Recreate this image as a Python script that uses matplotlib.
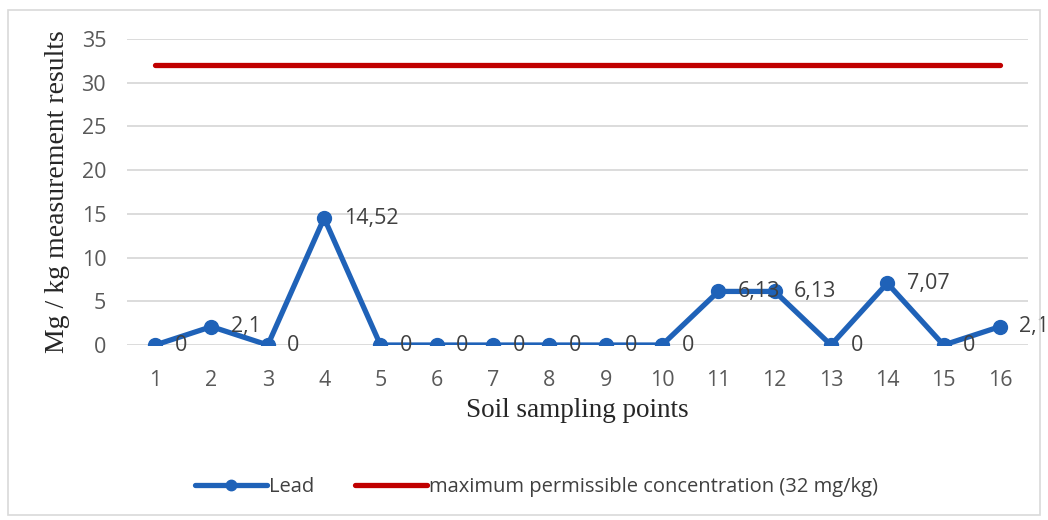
import matplotlib
matplotlib.use("Agg")
import matplotlib.pyplot as plt
from matplotlib.patches import Rectangle

points = list(range(1, 17))
lead = [0, 2.1, 0, 14.52, 0, 0, 0, 0, 0, 0, 6.13, 6.13, 0, 7.07, 0, 2.1]
mpc = [32] * 16
labels = ["0", "2,1", "0", "14,52", "0", "0", "0", "0", "0", "0", "6,13", "6,13", "0", "7,07", "0", "2,1"]
yticks = [0, 5, 10, 15, 20, 25, 30, 35]

fig = plt.figure(figsize=(10.48, 5.2), dpi=100)
ax = fig.add_axes([0.1212, 0.3365, 0.8598, 0.5885])

sans = ["Open Sans", "DejaVu Sans"]
serif = ["Liberation Serif", "DejaVu Serif"]

ax.plot(points, lead, color="#1F62B8", lw=3.8, marker="o", ms=10, label="Lead", zorder=3,
        solid_capstyle="round")
ax.plot(points, mpc, color="#C00000", lw=3.8, label="maximum permissible concentration (32 mg/kg)",
        solid_capstyle="round", zorder=3)

for x, y, t in zip(points, lead, labels):
    ax.annotate(t, (x, y), xytext=(14, 0), textcoords="offset points", ha="left", va="center",
                fontsize=15.5, color="#404040", family=sans, zorder=4)

ax.set_xlim(0.5, 16.5)
ax.set_ylim(0, 35)
ax.set_yticks(yticks)
ax.set_xticks(points)
ax.grid(axis="y", color="#D9D9D9", lw=1.3)
ax.set_axisbelow(True)
for s in ax.spines.values():
    s.set_visible(False)
ax.tick_params(length=0, labelsize=15.5, labelcolor="#595959")
ax.tick_params(axis="y", pad=15)
ax.tick_params(axis="x", pad=18)
for lab in ax.get_xticklabels() + ax.get_yticklabels():
    lab.set_family(sans)

ax.set_ylabel("Mg / kg measurement results", fontsize=20, family=serif, color="#262626", labelpad=8)
ax.set_xlabel("Soil sampling points", fontsize=19.5, family=serif, color="#262626", labelpad=5)

leg = fig.legend(loc="center", bbox_to_anchor=(0.512, 0.063), ncol=2, frameon=False,
                 prop={"family": sans, "size": 14.5}, handlelength=3.6, handletextpad=0.1,
                 columnspacing=2.0, labelcolor="#404040", markerscale=0.75)

fig.patches.append(Rectangle((0.008, 0.01), 0.984, 0.97, transform=fig.transFigure,
                             fill=False, edgecolor="#D9D9D9", lw=1.2))

fig.savefig("out.png", dpi=100)
